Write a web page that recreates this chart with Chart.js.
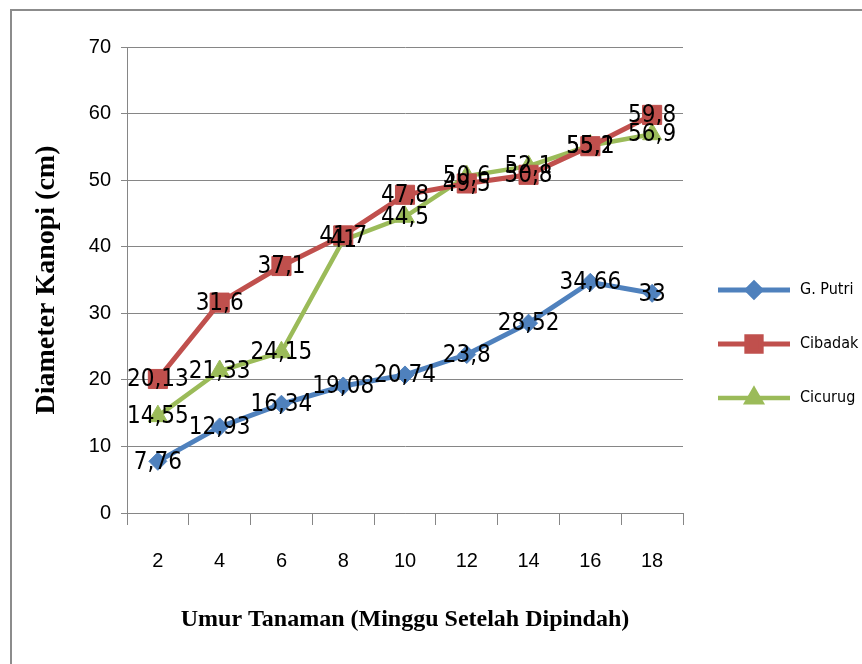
<!DOCTYPE html>
<html>
<head>
<meta charset="utf-8">
<script src="https://cdn.jsdelivr.net/npm/chart.js@4.4.0/dist/chart.umd.min.js"></script>
<style>
    html, body { margin: 0; padding: 0; background: #fff; }
    #wrap { position: relative; width: 862px; height: 664px; overflow: hidden; }
    #frame { position: absolute; left: 10px; top: 9px; width: 870px; height: 680px; border: 2px solid #8c8c8c; }
    #c { position: absolute; left: 0; top: 0; }
</style>
</head>
<body>
<div id="wrap">
    <div id="frame"></div>
    <canvas id="c" width="862" height="664"></canvas>
</div>
<script>
const weeks = ['2', '4', '6', '8', '10', '12', '14', '16', '18'];
const gPutri = [7.76, 12.93, 16.34, 19.08, 20.74, 23.8, 28.52, 34.66, 33];
const cibadak = [20.13, 31.6, 37.1, 41.7, 47.8, 49.5, 50.8, 55.1, 59.8];
const cicurug = [14.55, 21.33, 24.15, 41, 44.5, 50.6, 52.1, 55.2, 56.9];
const yTicks = [0, 10, 20, 30, 40, 50, 60, 70];

const narrow = '"Liberation Sans Narrow", "DejaVu Sans Condensed", "Liberation Sans", sans-serif';
const labelFont = '24px ' + narrow;
const tickFont = { family: '"Liberation Sans", sans-serif', size: 20 };
const gridColor = '#868686';

const fmt = v => String(v).replace('.', ',');

// value labels sit centred on each point, drawn over all lines
const valueLabels = {
    id: 'valueLabels',
    afterDatasetsDraw(chart) {
        const ctx = chart.ctx;
        ctx.save();
        ctx.font = labelFont;
        ctx.fillStyle = '#000';
        ctx.textAlign = 'center';
        ctx.textBaseline = 'middle';
        chart.data.datasets.forEach((ds, i) => {
            chart.getDatasetMeta(i).data.forEach((pt, j) => {
                ctx.fillText(fmt(ds.data[j]), pt.x, pt.y + 1);
            });
        });
        ctx.restore();
    }
};

// Excel-style legend: line with a small marker, name to the right
const sideLegend = {
    id: 'sideLegend',
    afterDraw(chart) {
        const ctx = chart.ctx;
        const area = chart.chartArea;
        const x0 = area.right + 35;
        const x1 = area.right + 107;
        ctx.save();
        chart.data.datasets.forEach((ds, i) => {
            const y = area.top + 243 + i * 54;
            ctx.strokeStyle = ds.borderColor;
            ctx.lineWidth = ds.borderWidth;
            ctx.beginPath();
            ctx.moveTo(x0, y);
            ctx.lineTo(x1, y);
            ctx.stroke();
            ctx.fillStyle = ds.pointBackgroundColor;
            ctx.strokeStyle = ds.pointBorderColor;
            Chart.helpers.drawPoint(ctx, { pointStyle: ds.pointStyle, radius: ds.pointRadius * 0.75, borderWidth: 1, rotation: 0 }, (x0 + x1) / 2, y);
            ctx.fillStyle = '#000';
            ctx.font = '16px ' + narrow;
            ctx.textAlign = 'left';
            ctx.textBaseline = 'middle';
            ctx.fillText(ds.label, x1 + 10, y);
        });
        ctx.restore();
    }
};

function series(label, data, color, style, radius, width) {
    return {
        label, data,
        borderColor: color,
        borderWidth: width,
        pointStyle: style,
        pointRadius: radius,
        pointHoverRadius: radius,
        pointBackgroundColor: color,
        pointBorderColor: color,
        pointBorderWidth: 1,
        tension: 0,
    };
}

new Chart(document.getElementById('c'), {
    type: 'line',
    data: {
        labels: weeks,
        datasets: [
            series('G. Putri', gPutri, '#4f81bd', 'rectRot', 9, 5),
            series('Cibadak', cibadak, '#c0504d', 'rect', 13.5, 5),
            series('Cicurug', cicurug, '#9bbb59', 'triangle', 11, 4.5),
        ],
    },
    options: {
        responsive: false,
        animation: false,
        events: [],
        layout: { padding: { left: 12, top: 47, right: 179, bottom: 10 } },
        plugins: { legend: { display: false }, tooltip: { enabled: false } },
        scales: {
            x: {
                offset: true,
                grid: { offset: true, drawOnChartArea: false, drawTicks: true, tickLength: 12, color: gridColor },
                border: { color: gridColor, width: 1 },
                ticks: { padding: 24, color: '#000', font: tickFont },
                title: {
                    display: true,
                    text: 'Umur Tanaman (Minggu Setelah Dipindah)',
                    color: '#000',
                    font: { family: '"Liberation Serif", "Times New Roman", serif', size: 24, weight: 'bold' },
                    padding: { top: 0, bottom: 20 },
                },
                afterFit: s => { s.height = 141; },
            },
            y: {
                min: 0,
                max: 70,
                afterBuildTicks: s => { s.ticks = yTicks.map(v => ({ value: v })); },
                grid: { color: gridColor, tickLength: 6 },
                border: { color: gridColor, width: 1 },
                ticks: { padding: 10, color: '#000', font: tickFont },
                title: {
                    display: true,
                    text: 'Diameter Kanopi (cm)',
                    color: '#000',
                    font: { family: '"Liberation Serif", "Times New Roman", serif', size: 28, weight: 'bold' },
                    padding: { top: 18, bottom: 0 },
                },
                afterFit: s => { s.width = 115; },
            },
        },
    },
    plugins: [valueLabels, sideLegend],
});
</script>
</body>
</html>
